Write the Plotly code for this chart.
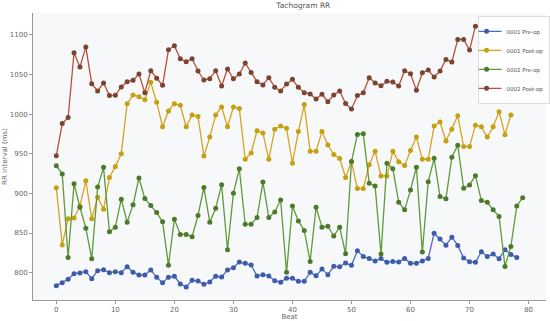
import plotly.graph_objects as go

beats_0001_pre = list(range(79))
rr_0001_pre = [783.6, 787.4, 791.6, 798.7, 799.5, 801.2, 792.4, 802.5, 803.7, 800.0,
               801.2, 800.0, 807.5, 800.4, 797.1, 797.1, 803.4, 794.1, 787.4, 794.1,
               795.4, 785.7, 782.0, 790.3, 789.5, 785.3, 788.2, 795.4, 794.5, 803.4,
               806.3, 813.4, 811.7, 809.6, 795.8, 797.5, 795.8, 789.9, 788.0, 793.0,
               792.8, 789.0, 789.0, 800.4, 796.2, 804.5, 797.5, 808.0, 807.5, 812.1,
               809.2, 827.6, 820.5, 818.0, 814.6, 818.0, 813.0, 814.2, 813.4, 818.0,
               811.7, 811.7, 814.6, 818.0, 849.8, 842.3, 834.7, 844.8, 834.3, 818.4,
               813.8, 813.0, 826.4, 820.5, 823.4, 817.6, 828.9, 823.0, 819.0]

beats_0001_post = list(range(78))
rr_0001_post = [907, 835, 868, 869, 884, 916, 868, 895, 880, 920,
                934, 950, 1013, 1024, 1022, 1018, 1040, 1015, 984, 1004,
                1013, 1011, 984, 999, 997, 947, 971, 999, 1009, 984,
                1009, 1007, 943, 951, 979, 976, 943, 981, 985, 982,
                938, 978, 1012, 953, 953, 978, 961, 949, 944, 920,
                940, 906, 906, 936, 953, 922, 922, 953, 940, 935,
                954, 971, 943, 943, 985, 990, 966, 981, 998, 959,
                959, 986, 984, 971, 984, 1003, 974, 999]

beats_0002_pre = list(range(80))
rr_0002_pre = [934.9, 924.4, 819.2, 912.2, 882.5, 856.1, 817.5, 908.0, 932.8, 851.5,
               857.4, 892.6, 863.7, 885.5, 919.4, 893.4, 884.6, 875.8, 864.1, 809.2,
               867.5, 848.2, 848.2, 845.3, 872.1, 907.3, 863.7, 881.3, 911.0, 828.8,
               900.1, 931.1, 861.1, 861.1, 869.5, 914.3, 869.5, 876.6, 891.7, 800.4,
               884.2, 865.3, 853.2, 814.2, 882.5, 857.4, 858.6, 846.1, 857.4, 823.8,
               940.1, 974.3, 975.1, 912.7, 909.3, 823.4, 937.9, 931.2, 888.8, 879.2,
               904.4, 932.9, 825.9, 914.8, 944.2, 896.0, 893.1, 945.5, 960.8, 906.4,
               910.6, 922.3, 890.9, 888.8, 879.2, 870.8, 807.9, 833.0, 884.2, 894.6]

beats_0002_post = list(range(72))
rr_0002_post = [947.4, 988.1, 995.6, 1077.3, 1059.3, 1084.5, 1038.4, 1029.1, 1039.2, 1023.3,
                1023.7, 1034.2, 1040.9, 1042.6, 1050.5, 1027.0, 1054.7, 1045.1, 1036.3, 1081.1,
                1086.1, 1069.8, 1066.0, 1069.8, 1054.3, 1043.0, 1044.6, 1054.7, 1035.4, 1056.8,
                1044.6, 1050.5, 1064.3, 1052.6, 1040.9, 1036.7, 1045.9, 1033.8, 1029.1, 1037.8,
                1043.8, 1033.7, 1027.0, 1025.4, 1019.1, 1025.0, 1015.7, 1024.1, 1029.1, 1013.2,
                1006.5, 1023.3, 1027.0, 1045.9, 1039.2, 1035.8, 1041.3, 1040.5, 1035.4, 1054.7,
                1050.9, 1030.0, 1052.2, 1055.5, 1046.7, 1054.3, 1069.0, 1065.6, 1094.1, 1094.1,
                1080.7, 1110.9]

series_names = ["0001 Pre-op", "0001 Post-op", "0002 Pre-op", "0002 Post-op"]
line_colors = ["#4a6cc0", "#d6a322", "#5e9a38", "#b9503c"]
marker_colors = ["#3e5caa", "#c4a012", "#4d7a2a", "#7a4530"]

xs = [beats_0001_pre, beats_0001_post, beats_0002_pre, beats_0002_post]
ys = [rr_0001_pre, rr_0001_post, rr_0002_pre, rr_0002_post]

fig = go.Figure()
for name, x, y, lc, mc in zip(series_names, xs, ys, line_colors, marker_colors):
    fig.add_trace(go.Scatter(
        x=x, y=y, mode="lines+markers", name=name,
        line=dict(color=lc, width=1.3),
        marker=dict(color=mc, size=5),
    ))

axis_font = dict(family="DejaVu Sans", size=7, color="#666666")
title_font = dict(family="DejaVu Sans", size=7, color="#666666")
fig.update_layout(
    width=550, height=321,
    margin=dict(l=33, r=4, t=13, b=21, autoexpand=False),
    paper_bgcolor="white",
    plot_bgcolor="#f7f8fa",
    font=dict(family="DejaVu Sans", size=7, color="#555555"),
    title=dict(text="Tachogram RR", x=0.527, xanchor="center", xref="paper",
               y=0.99, yanchor="top", automargin=False,
               font=dict(family="DejaVu Sans", size=7.5, color="#555555")),
    showlegend=True,
    legend=dict(x=1.007, y=0.99, xanchor="right", yanchor="top",
                bgcolor="rgba(255,255,255,0.8)", bordercolor="#dddddd", borderwidth=1,
                font=dict(family="DejaVu Sans", size=5.5, color="#555555"),
                itemwidth=30, tracegroupgap=0, indentation=-12),
    xaxis=dict(range=[-3.95, 82.95], tickvals=[0, 10, 20, 30, 40, 50, 60, 70, 80],
               showgrid=False, zeroline=False, showline=True, linecolor="#999999",
               linewidth=1, ticks="outside", ticklen=3, tickcolor="#999999",
               tickfont=axis_font, automargin=False,
               title=dict(text="Beat", font=title_font, standoff=1)),
    yaxis=dict(range=[765.5, 1127.5], tickvals=[800, 850, 900, 950, 1000, 1050, 1100],
               showgrid=False, zeroline=False, showline=True, linecolor="#999999",
               linewidth=1, ticks="outside", ticklen=3, tickcolor="#999999",
               tickfont=axis_font, automargin=False,
               title=dict(text="RR interval (ms)", font=title_font, standoff=1)),
)

fig.write_html(
    "out.html",
    config={"displayModeBar": False},
    post_script="document.body.style.margin='0';document.body.style.padding='0';"
                "document.body.style.overflow='hidden';",
)
